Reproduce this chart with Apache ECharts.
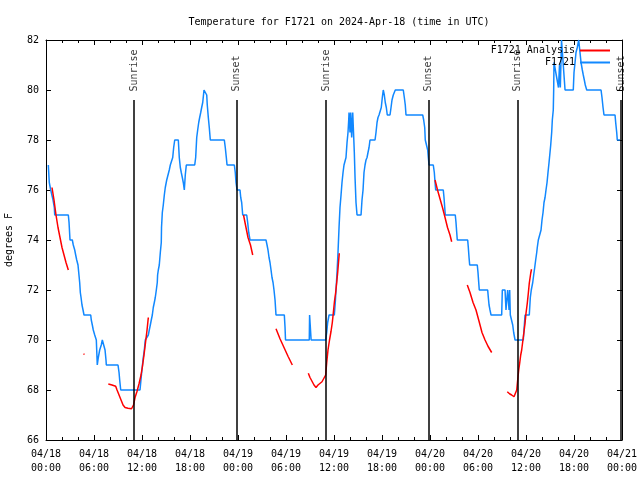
<!DOCTYPE html>
<html><head><meta charset="utf-8">
<script src="https://cdn.jsdelivr.net/npm/echarts@6/dist/echarts.min.js"></script>
<style>html,body{margin:0;padding:0;background:#fff}#c{width:640px;height:480px}</style>
</head><body><div id="c"></div>
<script>
// hours since 2024-04-18 00:00 UTC
const obsTime = [0.29,0.41,0.59,0.79,0.88,1.04,1.09,2.79,2.88,3.0,3.29,3.41,3.59,3.71,3.84,4.0,4.09,4.21,4.29,4.38,4.5,4.63,4.75,5.59,5.66,5.79,5.91,6.09,6.29,6.41,6.54,6.71,6.91,7.04,7.25,7.38,7.5,7.54,9.0,9.13,9.21,9.34,11.75,11.84,11.96,12.09,12.16,12.29,12.41,12.66,12.79,12.91,13.04,13.16,13.29,13.41,13.54,13.66,13.79,13.91,13.95,14.04,14.16,14.29,14.41,14.44,14.54,14.66,14.79,14.91,15.09,15.29,15.41,15.54,15.71,15.84,15.96,16.09,16.54,16.66,16.79,16.91,17.04,17.16,17.29,17.41,17.54,18.59,18.71,18.84,18.96,19.09,19.21,19.34,19.46,19.59,19.75,20.0,20.09,20.16,20.29,20.41,20.54,22.29,22.41,22.54,22.63,23.54,23.66,23.75,23.88,24.25,24.34,24.46,24.59,25.09,25.21,25.34,25.5,27.5,27.63,27.75,27.88,28.0,28.13,28.25,28.38,28.5,28.63,28.75,29.79,29.88,29.94,32.91,32.95,33.1,33.14,34.96,35.09,35.21,35.38,36.04,36.16,36.25,36.38,36.5,36.63,36.75,36.88,37.0,37.13,37.25,37.38,37.5,37.63,37.75,37.84,37.88,38.0,38.09,38.21,38.34,38.46,38.54,38.63,38.75,38.88,39.38,39.5,39.63,39.75,39.88,40.0,40.13,40.25,40.38,40.5,41.13,41.25,41.38,41.5,41.63,41.84,41.91,42.04,42.16,42.29,42.41,42.54,42.66,43.0,43.13,43.25,43.41,43.66,44.66,44.79,44.91,45.0,47.09,47.21,47.34,47.41,47.63,47.71,47.79,47.88,48.41,48.54,48.63,48.71,49.66,49.75,49.84,49.91,51.16,51.25,51.34,51.41,52.71,52.79,52.88,52.96,53.91,54.0,54.09,54.16,55.21,55.29,55.38,55.5,55.63,56.96,57.04,57.38,57.5,57.71,57.79,57.88,57.96,58.04,58.16,58.34,58.46,58.63,59.66,59.75,59.88,60.41,60.54,60.66,60.84,60.96,61.09,61.21,61.34,61.41,61.54,61.75,61.88,62.0,62.13,62.25,62.38,62.5,62.63,62.75,62.88,63.0,63.09,63.21,63.29,63.41,63.46,63.5,63.75,64.06,64.19,64.29,64.44,64.63,64.88,65.91,66.0,66.13,66.25,66.41,66.59,66.75,66.88,67.04,67.16,67.29,67.41,67.59,69.38,69.5,69.63,69.75,71.13,71.21,71.34,71.41,71.75];
const obsTemp = [77.0,76.3,76.0,76.0,75.6,75.3,75.0,75.0,74.7,74.0,74.0,73.8,73.6,73.4,73.2,73.0,72.7,72.3,71.9,71.7,71.4,71.2,71.0,71.0,70.8,70.6,70.4,70.2,70.0,69.0,69.3,69.6,69.8,70.0,70.0,69.6,69.2,69.0,69.0,68.7,68.4,68.0,68.0,68.3,68.7,69.1,69.3,69.6,70.0,70.0,70.2,70.4,70.6,70.8,71.0,71.3,71.5,71.7,72.0,72.3,72.6,72.8,73.0,73.5,73.9,74.5,75.1,75.4,75.8,76.1,76.4,76.4,76.8,77.0,77.0,77.3,77.7,78.0,78.0,77.3,76.9,76.7,76.5,76.3,76.0,76.6,77.0,77.0,77.3,78.1,78.4,78.7,78.9,79.1,79.3,79.5,80.0,80.0,79.8,79.4,78.9,78.5,78.0,78.0,77.7,77.3,77.0,77.0,76.7,76.3,76.0,76.0,75.7,75.5,75.0,75.0,74.7,74.3,74.0,74.0,73.8,73.6,73.3,73.1,72.8,72.5,72.3,72.0,71.6,71.0,71.0,70.5,70.0,70.0,71.0,71.0,70.0,70.0,70.3,70.7,71.0,71.0,71.5,72.0,72.7,73.5,74.5,75.3,75.8,76.3,76.7,77.0,77.0,77.3,77.9,78.3,78.8,79.1,78.3,79.1,78.1,79.1,79.1,77.5,76.5,75.5,75.0,75.0,75.6,76.0,76.7,77.0,77.2,77.3,77.5,77.7,78.0,78.0,78.3,78.7,78.9,79.0,79.0,79.3,79.7,80.0,79.8,79.5,79.3,79.0,79.0,79.3,79.6,79.8,80.0,80.0,79.7,79.4,79.0,79.0,78.8,78.5,78.0,78.0,77.6,77.3,77.0,77.0,76.7,76.3,76.0,76.0,75.7,75.3,75.0,75.0,74.7,74.3,74.0,74.0,73.7,73.3,73.0,73.0,72.7,72.3,72.0,72.0,71.7,71.4,71.2,71.0,71.0,72.0,72.0,71.2,72.0,72.0,71.2,72.0,71.0,71.0,70.6,70.3,70.0,70.0,70.4,71.0,71.0,71.7,72.0,72.3,72.6,72.9,73.2,73.5,73.7,74.0,74.0,74.4,74.8,75.1,75.5,75.7,76.0,76.3,76.7,77.1,77.5,77.8,78.3,78.8,79.2,80.0,81.1,81.1,80.1,81.0,80.1,82.0,82.0,80.0,80.0,80.7,81.1,81.5,81.7,82.0,81.5,81.1,80.8,80.6,80.4,80.2,80.0,80.0,79.7,79.3,79.0,79.0,78.7,78.3,78.0,78.0];

// analysis: null marks a gap between segments
const anaTime = [0.75,1.0,1.25,1.5,1.75,2.0,2.25,2.5,2.79, 3.5, 4.69,4.81, 6.0, 7.79,8.25,8.71,8.88,9.13,9.38,9.63,9.88,10.25,10.69,10.94,11.13,11.38,11.63,11.88,12.06,12.25,12.44,12.63,12.79, 18.0, 24.69,25.0,25.25,25.56,25.84, 27.0, 28.75,29.25,29.75,30.25,30.79, 31.5, 32.79,33.0,33.25,33.5,33.75,34.0,34.25,34.5,34.75,34.96,35.09,35.25,35.44,35.63,35.79,35.91,36.06,36.21,36.34,36.46,36.59,36.66, 42.0, 48.63,48.94,49.25,49.56,49.88,50.19,50.5,50.71, 51.5, 52.66,53.0,53.38,53.75,54.13,54.5,54.88,55.25,55.71, 56.5, 57.66,57.94,58.21,58.5,58.75,58.84,58.96,59.09,59.21,59.34,59.46,59.59,59.75,59.88,60.0,60.16,60.29,60.41,60.59,60.69];
const anaTemp = [76.1,75.6,75.0,74.5,74.1,73.7,73.4,73.1,72.8, null, 69.45,69.42, null, 68.24,68.2,68.15,68.0,67.8,67.6,67.4,67.3,67.27,67.25,67.4,67.7,67.95,68.25,68.6,68.95,69.4,69.9,70.4,70.9, null, 75.0,74.5,74.1,73.8,73.4, null, 70.45,70.05,69.7,69.35,69.0, null, 68.67,68.5,68.35,68.2,68.1,68.2,68.27,68.33,68.4,68.6,69.1,69.6,70.0,70.35,70.7,71.07,71.55,71.9,72.3,72.7,73.2,73.47, null, 76.4,76.0,75.65,75.3,74.9,74.5,74.2,73.93, null, 72.2,71.9,71.5,71.2,70.75,70.3,70.0,69.75,69.5, null, 67.93,67.85,67.8,67.73,67.67,68.0,68.4,68.8,69.07,69.4,69.6,69.93,70.33,70.67,71.07,71.47,71.87,72.27,72.67,72.83];

const eventTime = [11.03, 23.8, 35.03, 47.8, 58.92, 71.9];
const eventName = ['Sunrise','Sunset','Sunrise','Sunset','Sunrise','Sunset'];

const xTickLabels = ['04/18\n00:00','04/18\n06:00','04/18\n12:00','04/18\n18:00','04/19\n00:00','04/19\n06:00','04/19\n12:00','04/19\n18:00','04/20\n00:00','04/20\n06:00','04/20\n12:00','04/20\n18:00','04/21\n00:00'];
const yMin = 66, yMax = 82, yStep = 2;

const FONT = 'DejaVu Sans Mono';
const txt = {fontFamily: FONT, fontSize: 10, color: '#000'};
const obsData = obsTime.map((t, i) => [t, obsTemp[i]]);
const anaData = anaTime.map((t, i) => [t, anaTemp[i] === null ? '-' : anaTemp[i]]);
const lineTop = 79.6;

const xCommon = {
  type: 'value', min: 0, max: 72, interval: 6,
  axisLine: {show: true, onZero: false, lineStyle: {color: '#000', width: 1}},
  axisTick: {show: true, inside: true, length: 5, lineStyle: {color: '#000'}},
  minorTick: {show: true, splitNumber: 3, length: 3, lineStyle: {color: '#000'}},
  splitLine: {show: false}
};
const yCommon = {
  type: 'value', min: yMin, max: yMax, interval: yStep,
  axisLine: {show: true, onZero: false, lineStyle: {color: '#000', width: 1}},
  axisTick: {show: true, inside: true, length: 5, lineStyle: {color: '#000'}},
  splitLine: {show: false}
};

const chart = echarts.init(document.getElementById('c'), null, {renderer: 'canvas'});
chart.setOption({
  animation: false,
  backgroundColor: '#fff',
  textStyle: txt,
  title: {
    text: 'Temperature for F1721 on 2024-Apr-18 (time in UTC)',
    left: 334, top: 12, textAlign: 'center',
    textStyle: {fontFamily: FONT, fontSize: 10, fontWeight: 'normal', color: '#000'}
  },
  grid: {left: 46, right: 18, top: 40, bottom: 40, containLabel: false, outerBoundsMode: 'none'},
  legend: {
    orient: 'vertical', right: 30, top: 45, padding: 0, align: 'right',
    itemWidth: 30, itemHeight: 2, itemGap: 1, icon: 'rect',
    data: ['F1721 Analysis', 'F1721'],
    textStyle: {fontFamily: FONT, fontSize: 10, color: '#000', lineHeight: 11}
  },
  xAxis: [
    Object.assign({}, xCommon, {position: 'bottom',
      axisLabel: {formatter: v => xTickLabels[Math.round(v / 6)], fontFamily: FONT, fontSize: 10, color: '#000', lineHeight: 14, margin: 7}}),
    Object.assign({}, xCommon, {position: 'top', axisLabel: {show: false}})
  ],
  yAxis: [
    Object.assign({}, yCommon, {position: 'left',
      axisLabel: {fontFamily: FONT, fontSize: 10, color: '#000', margin: 7},
      name: 'degrees F', nameLocation: 'middle', nameGap: 32, nameRotate: 90,
      nameTextStyle: {fontFamily: FONT, fontSize: 10, color: '#000'}}),
    Object.assign({}, yCommon, {position: 'right', axisLabel: {show: false}})
  ],
  series: [
    {
      name: 'F1721', type: 'line', data: obsData, symbol: 'none', showSymbol: false,
      lineStyle: {color: '#1188ff', width: 1.5}, itemStyle: {color: '#1188ff'}, z: 2
    },
    {
      name: 'F1721 Analysis', type: 'line', data: anaData, symbol: 'none', showSymbol: false,
      connectNulls: false,
      lineStyle: {color: '#ff0000', width: 1.5}, itemStyle: {color: '#ff0000'}, z: 3
    },
    {
      name: 'events', type: 'scatter', symbolSize: 1,
      itemStyle: {color: 'rgba(0,0,0,0)'},
      data: eventTime.map((t, i) => ({value: [t, lineTop], name: eventName[i]})),
      label: {show: true, formatter: '{b}', position: 'top', distance: 8, rotate: 90,
        align: 'left', verticalAlign: 'middle', fontFamily: FONT, fontSize: 10, color: '#000'},
      markLine: {
        silent: true, symbol: 'none', animation: false, label: {show: false},
        lineStyle: {color: '#000', width: 1.5, type: 'solid'},
        data: eventTime.map(t => [{coord: [t, lineTop]}, {coord: [t, yMin]}])
      },
      z: 4
    }
  ]
});
</script></body></html>
